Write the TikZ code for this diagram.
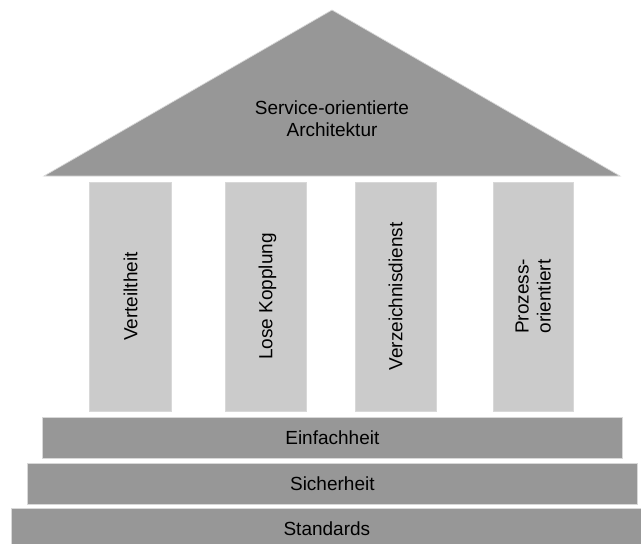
\documentclass[tikz,border=0pt]{standalone}
\usepackage{fontspec}
\setmainfont{Liberation Sans}
\definecolor{roofgray}{HTML}{979797}
\definecolor{pillargray}{HTML}{CBCBCB}
\definecolor{edgegray}{HTML}{D8D8D8}
\begin{document}
\begin{tikzpicture}[x=1pt,y=-1pt,
  every node/.style={font=\fontsize{19}{22}\selectfont, text=black},
  stepbar/.style={fill=roofgray, draw=edgegray, line width=0.7pt, inner sep=0pt, anchor=north west},
  pillar/.style={fill=pillargray, draw=edgegray, line width=0.7pt, inner sep=0pt, rotate=90, align=center, text depth=0pt}]
  \useasboundingbox[fill=white] (0,0) rectangle (641,544);
  % roof
  \coordinate (apex) at (332,10);
  \coordinate (eaveL) at (44,176);
  \coordinate (eaveR) at (620,176);
  \fill[roofgray, draw=edgegray, line width=0.7pt] (apex) -- (eaveR) -- (eaveL) -- cycle;
  \node[align=center] (roof) at (332,119) {Service-orientierte\\Architektur};
  % pillars
  \node[pillar, minimum width=229pt, minimum height=82pt] (p1) at (130.5,296.5) {Verteiltheit};
  \node[pillar, minimum width=229pt, minimum height=81pt] (p2) at (265.5,296.5) {Lose Kopplung};
  \node[pillar, minimum width=229pt, minimum height=81pt] (p3) at (395.5,296.5) {Verzeichnisdienst};
  \node[pillar, minimum width=229pt, minimum height=80pt] (p4) at (533,296.5) {Prozess-\\orientiert};
  % foundation steps
  \node[stepbar, minimum width=580pt, minimum height=41pt] (s1) at (42,417) {};
  \node at (s1.center) {Einfachheit};
  \node[stepbar, minimum width=610pt, minimum height=41pt] (s2) at (27,463) {};
  \node at (s2.center) {Sicherheit};
  \node[stepbar, minimum width=631pt, minimum height=37pt] (s3) at (11,508) {};
  \node at ([yshift=-2pt]s3.center) {Standards};
\end{tikzpicture}
\end{document}
